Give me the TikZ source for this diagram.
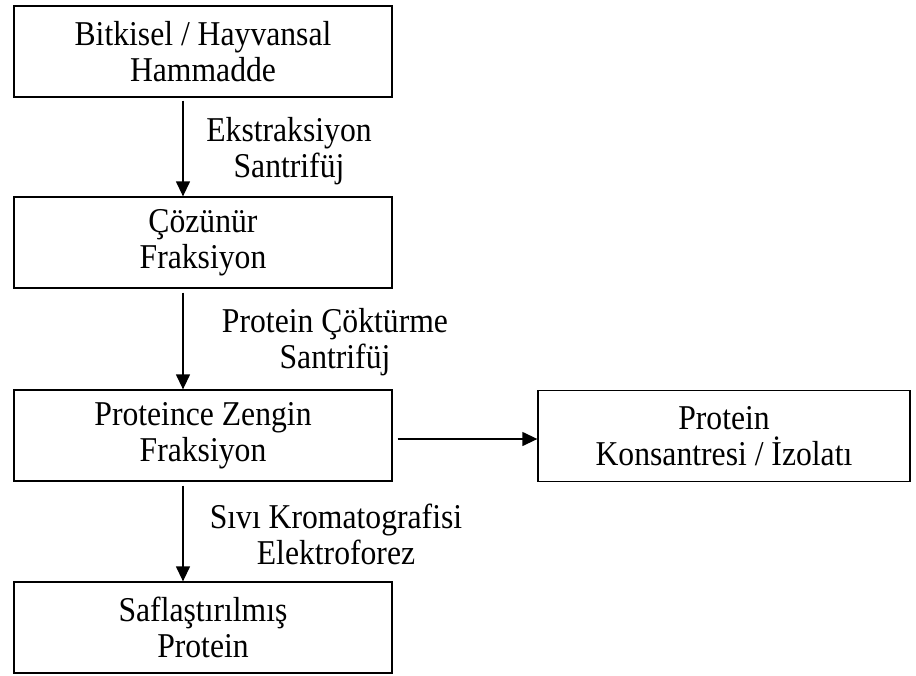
\documentclass[tikz,border=0pt]{standalone}
\usepackage{fontspec}
\setmainfont[FakeStretch=0.91]{Liberation Serif}
\usetikzlibrary{arrows.meta}
\tikzset{
  stepbox/.style={draw, line width=1.3pt, minimum width=378pt, minimum height=91pt, align=center, inner sep=0pt},
  steplabel/.style={align=center, inner sep=0pt},
  flow/.style={line width=1.3pt, -{Triangle[length=15pt,width=14pt]}}
}
\begin{document}
\begin{tikzpicture}[x=1pt,y=-1pt,font=\fontsize{34.8}{36}\selectfont]
\useasboundingbox (0,0) rectangle (916,675);
% boxes
\node[stepbox] (raw) at (203,51.5) {Bitkisel / Hayvansal\\Hammadde};
\node[stepbox] (soluble) at (203,242.5) {Çözünür\\Fraksiyon};
\node[stepbox] (rich) at (203,435.5) {Proteince Zengin\\Fraksiyon};
\node[stepbox] (pure) at (203,627.5) {Saflaştırılmış\\Protein};
\node[stepbox,minimum width=372pt] (conc) at (724,436) {Protein\\Konsantresi / İzolatı};
% labels
\node[steplabel] (extract) at (289,151.5) {Ekstraksiyon\\Santrifüj};
\node[steplabel] (precip) at (335,342) {Protein Çöktürme\\Santrifüj};
\node[steplabel] (chrom) at (336,534) {Sıvı Kromatografisi\\Elektroforez};
% arrows
\draw[flow] ([xshift=-20pt,yshift=-3pt]raw.south) -- ([xshift=-20pt]soluble.north);
\draw[flow] ([xshift=-20pt,yshift=-4pt]soluble.south) -- ([xshift=-20pt]rich.north);
\draw[flow] ([xshift=-20pt,yshift=-4pt]rich.south) -- ([xshift=-20pt]pure.north);
\draw[flow] ([xshift=5pt,yshift=-3.5pt]rich.east) -- ([yshift=-3pt]conc.west);
\end{tikzpicture}
\end{document}
